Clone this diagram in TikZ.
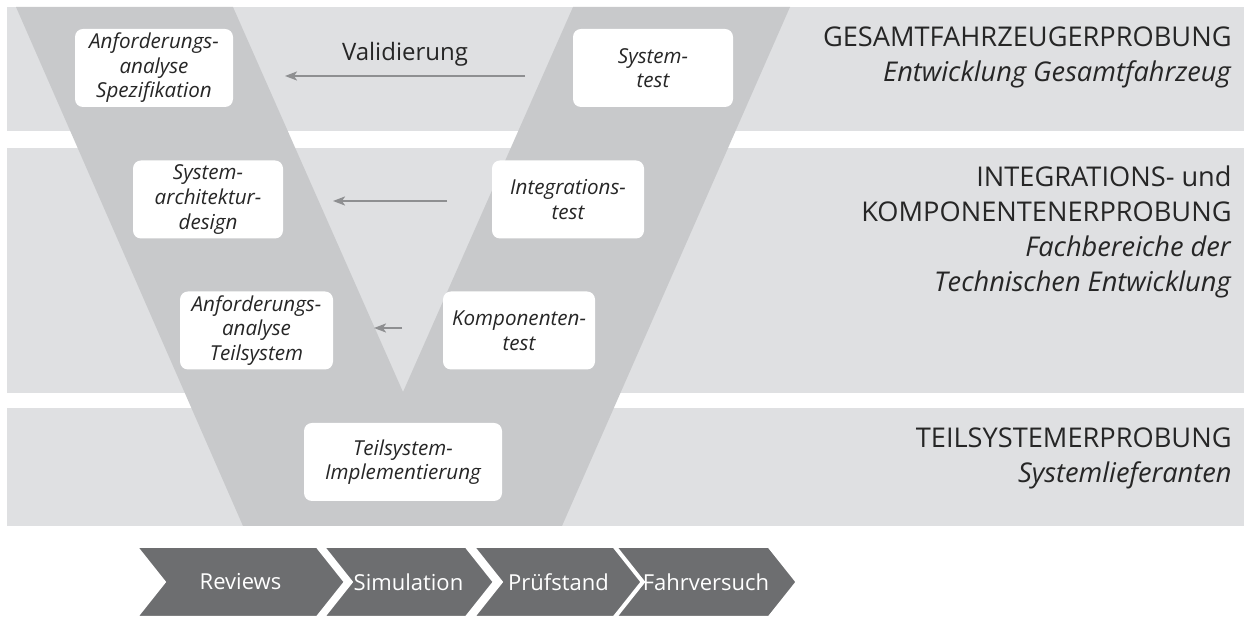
\documentclass[tikz,border=0pt]{standalone}
\usepackage{fontspec}
\setmainfont{Open Sans}
\usetikzlibrary{arrows.meta, shapes.symbols}
\definecolor{BandGray}{HTML}{DFE0E2}
\definecolor{VGray}{HTML}{C8C9CB}
\definecolor{ArrGray}{HTML}{8E8F91}
\definecolor{ChevGray}{HTML}{6D6E70}
\definecolor{InkGray}{HTML}{262626}
\tikzset{
  band/.style={fill=BandGray, draw=none},
  vee/.style={fill=VGray, draw=none},
  phase/.style={fill=white, rounded corners=4pt, align=center, text=InkGray,
                font=\fontsize{10.3}{12.3}\selectfont\itshape, inner sep=0pt,
                minimum height=39pt},
  arr/.style={-{Stealth[length=6pt, width=4.5pt, inset=1.5pt]}, draw=ArrGray,
              line width=1pt},
  lbl/.style={font=\fontsize{12}{14}\selectfont, text=InkGray, inner sep=0pt},
  level/.style={anchor=north east, align=right, text=InkGray, inner sep=0pt,
                font=\fontsize{13.6}{17.5}\selectfont},
  chev/.style={signal, signal to=east, signal from=west, signal pointer angle=103,
               fill=ChevGray, draw=white, line width=2pt, text=white,
               font=\fontsize{11}{13}\selectfont, minimum height=36pt, inner sep=0pt},
}

\begin{document}
\begin{tikzpicture}[x=0.5pt, y=-0.5pt]
  \useasboundingbox (0,0) rectangle (1244,619);

  % levels
  \fill[band] (7,7) rectangle (1244,131);
  \fill[band] (7,148) rectangle (1244,393);
  \fill[band] (7,408) rectangle (1244,526);

  % the V
  \fill[vee] (16,7) -- (233,7) -- (403,392) -- (573,7) -- (790,7)
             -- (562,526) -- (243,526) -- cycle;

  \node[phase, minimum width=79pt]   (spec)   at (154,68)    {Anforderungs-\\analyse\\Spezifikation};
  \node[phase, minimum width=80pt]   (systst) at (653,68)    {System-\\test};
  \node[phase, minimum width=75pt]   (arch)   at (208,199.5) {System-\\architektur-\\design};
  \node[phase, minimum width=76pt]   (inttst) at (568,199.5) {Integrations-\\test};
  \node[phase, minimum width=76.5pt] (subreq) at (256.5,330.5) {Anforderungs-\\analyse\\Teilsystem};
  \node[phase, minimum width=76pt]   (komtst) at (519,330.5) {Komponenten-\\test};
  \node[phase, minimum width=99pt]   (impl)   at (403,462)   {Teilsystem-\\Implementierung};

  \coordinate (val1a) at (525,76);
  \coordinate (val1b) at (285,76);
  \coordinate (val2a) at (447,201);
  \coordinate (val2b) at (333,201);
  \coordinate (val3a) at (402,328);
  \coordinate (val3b) at (374,328);

  \draw[arr] (val1a) -- node[lbl, above=4.5pt]{Validierung} (val1b);
  \draw[arr] (val2a) -- (val2b);
  \draw[arr] (val3a) -- (val3b);

  % level texts
  \node[level] (lv1) at (1232,26)  {GESAMTFAHRZEUGERPROBUNG\\\textit{Entwicklung Gesamtfahrzeug}};
  \node[level] (lv2) at (1232,165) {INTEGRATIONS- und\\KOMPONENTENERPROBUNG\\\textit{Fachbereiche der}\\\textit{Technischen Entwicklung}};
  \node[level] (lv3) at (1232,427) {TEILSYSTEMERPROBUNG\\\textit{Systemlieferanten}};

  % test methods
  \node[chev, minimum width=105.5pt] (rev) at (240.5,582) {Reviews};
  \node[chev, minimum width=86.5pt]  (sim) at (408.5,582) {Simulation};
  \node[chev, minimum width=86.5pt]  (pst) at (558.5,582) {Prüfstand};
  \node[chev, minimum width=84pt]    (fv)  at (706,582)   {Fahrversuch};
\end{tikzpicture}
\end{document}
